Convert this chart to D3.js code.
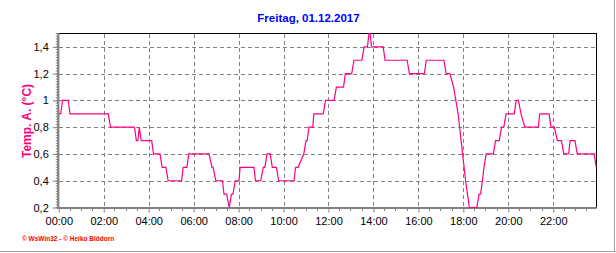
<!DOCTYPE html>
<html><head><meta charset="utf-8">
<script src="https://cdn.jsdelivr.net/npm/d3@7"></script>
<style>
html,body{margin:0;padding:0;background:#fff;}
svg{display:block;}
text{font-family:"Liberation Sans",Arial,sans-serif;}
</style></head>
<body>
<script>
// ---- data (minutes after midnight, temperature °C) ----
const title = "Freitag, 01.12.2017";
const yTitle = "Temp. A. (°C)";
const footer = "© WsWin32 - © Heiko Blödorn";
const minutes = [0,5,10,25,30,132,138,202,207,211,215,220,248,253,270,276,286,292,328,332,342,347,401,409,412,419,437,441,448,455,461,465,471,481,484,521,525,539,546,550,556,564,570,581,587,628,632,639,654,660,663,668,678,681,706,712,735,741,760,765,782,788,809,815,824,828,831,835,866,871,930,936,976,981,1028,1034,1044,1054,1060,1066,1070,1074,1078,1082,1086,1091,1096,1116,1122,1126,1131,1135,1141,1160,1166,1176,1182,1188,1194,1216,1221,1227,1234,1244,1280,1284,1309,1314,1323,1331,1342,1348,1361,1365,1378,1384,1429,1435];
const temps = [0.9,0.9,1.0,1.0,0.9,0.9,0.8,0.8,0.7,0.7,0.8,0.7,0.7,0.6,0.6,0.5,0.5,0.4,0.4,0.5,0.5,0.6,0.6,0.5,0.5,0.4,0.4,0.3,0.3,0.2,0.3,0.3,0.4,0.4,0.5,0.5,0.4,0.4,0.5,0.5,0.6,0.6,0.5,0.5,0.4,0.4,0.5,0.5,0.6,0.7,0.7,0.8,0.8,0.9,0.9,1.0,1.0,1.1,1.1,1.2,1.2,1.3,1.3,1.4,1.4,1.5,1.5,1.4,1.4,1.3,1.3,1.2,1.2,1.3,1.3,1.2,1.2,1.1,1.0,0.9,0.8,0.7,0.6,0.5,0.4,0.3,0.2,0.2,0.3,0.3,0.4,0.5,0.6,0.6,0.7,0.7,0.8,0.8,0.9,0.9,1.0,1.0,0.9,0.8,0.8,0.9,0.9,0.8,0.8,0.7,0.7,0.6,0.6,0.7,0.7,0.6,0.6,0.5];
const yTicks = [0.2,0.4,0.6,0.8,1.0,1.2,1.4];
const xTicks = [0,120,240,360,480,600,720,840,960,1080,1200,1320];
const xTickLabels = ["00:00","02:00","04:00","06:00","08:00","10:00","12:00","14:00","16:00","18:00","20:00","22:00"];

const W = 616, H = 253;
const L = 58.8, R = 596.7, T = 33.5, B = 207.5;
const svg = d3.select("body").append("svg").attr("width", W).attr("height", H);

const x = d3.scaleLinear().domain([0, 1436]).range([L, R]);
const y = d3.scaleLinear().domain([0.2, 1.5]).range([B, T]);

// frame shadow lines
svg.append("line").attr("x1",0).attr("x2",615.5).attr("y1",251.5).attr("y2",251.5).attr("stroke","#a0a0a0");
svg.append("line").attr("x1",614.5).attr("x2",614.5).attr("y1",0).attr("y2",252).attr("stroke","#a0a0a0");

// grid
const grid = svg.append("g").attr("stroke","#808080").attr("stroke-dasharray","4,3").attr("shape-rendering","crispEdges");
grid.selectAll("line.h").data(yTicks.filter(d=>d>0.2)).join("line")
  .attr("x1",L).attr("x2",R).attr("y1",d=>Math.round(y(d))+0.5).attr("y2",d=>Math.round(y(d))+0.5);
grid.selectAll("line.v").data(xTicks.filter(d=>d>0)).join("line")
  .attr("x1",d=>Math.round(x(d))+0.5).attr("x2",d=>Math.round(x(d))+0.5).attr("y1",T).attr("y2",B);

// top and right border
svg.append("path").attr("d",`M${L},${T}H${R}V${B}`).attr("fill","none").attr("stroke","#000").attr("stroke-width",1).attr("shape-rendering","crispEdges");

// x axis
const xAxis = d3.axisBottom(x).tickValues(xTicks).tickSize(5).tickPadding(5)
  .tickFormat((d,i)=>xTickLabels[i]);
const gx = svg.append("g").attr("transform",`translate(0,${B})`).call(xAxis);
gx.select(".domain").remove();
gx.selectAll(".tick line").attr("stroke","#808080").attr("stroke-width",1);
gx.selectAll(".tick text").attr("font-size",11).attr("font-family","Liberation Sans, Arial, sans-serif").attr("fill","#000");
const minorX = d3.range(0, 1436, 30).filter(d=>d%120!==0);
svg.append("g").selectAll("line").data(minorX).join("line")
  .attr("x1",d=>x(d)).attr("x2",d=>x(d)).attr("y1",B).attr("y2",B+3.5)
  .attr("stroke","#808080").attr("shape-rendering","crispEdges");

// y axis
const fmt = d => (Math.abs(d-1)<1e-9) ? "1" : d3.format(".1f")(d).replace(".",",");
const yAxis = d3.axisLeft(y).tickValues(yTicks).tickSize(5).tickPadding(4).tickFormat(fmt);
const gy = svg.append("g").attr("transform",`translate(${L-1},0)`).call(yAxis);
gy.select(".domain").remove();
gy.selectAll(".tick line").attr("stroke","#808080");
gy.selectAll(".tick text").attr("font-size",11).attr("font-family","Liberation Sans, Arial, sans-serif").attr("fill","#000");
const minorY = d3.range(0.2, 1.5001, 0.02);
svg.append("g").selectAll("line").data(minorY).join("line")
  .attr("x1",L-3).attr("x2",L).attr("y1",d=>y(d)).attr("y2",d=>y(d))
  .attr("stroke","#808080").attr("stroke-width",1);

// axis lines
svg.append("line").attr("x1",L-0.5).attr("x2",L-0.5).attr("y1",T).attr("y2",B+1.5).attr("stroke","#808080").attr("stroke-width",2.2);
svg.append("line").attr("x1",L-1.5).attr("x2",R).attr("y1",B+0.5).attr("y2",B+0.5).attr("stroke","#808080").attr("stroke-width",2);

// data line
const pts = minutes.map((m,i)=>[m, temps[i]]);
svg.append("clipPath").attr("id","clip").append("rect").attr("x",L).attr("y",T-1).attr("width",R-L).attr("height",B-T+2);
svg.append("path").datum(pts)
  .attr("clip-path","url(#clip)")
  .attr("d", d3.line().x(d=>x(d[0])).y(d=>y(d[1])))
  .attr("fill","none").attr("stroke","#ff0080").attr("stroke-width",1.2).attr("stroke-linejoin","miter");

// title
svg.append("text").attr("x",308.5).attr("y",22).attr("text-anchor","middle")
  .attr("font-size",11.5).attr("font-weight","bold").attr("fill","#0000ff").text(title);

// y title
svg.append("text").attr("transform","translate(30.5,121) rotate(-90)").attr("text-anchor","middle")
  .attr("font-size",12).attr("font-weight","bold").attr("fill","#ff0080").text(yTitle);

// footer
svg.append("text").attr("x",22).attr("y",241).attr("font-size",6.5).attr("font-weight","bold")
  .attr("fill","#ff0000").attr("font-family","DejaVu Sans, sans-serif").text(footer);
</script>
</body></html>
